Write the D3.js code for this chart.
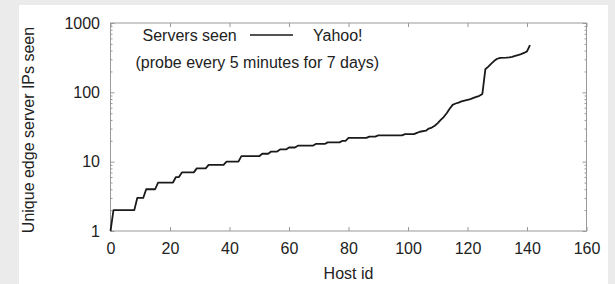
<!DOCTYPE html>
<html>
<head>
<meta charset="utf-8">
<script src="https://cdn.jsdelivr.net/npm/d3@7"></script>
<style>
  html, body { margin: 0; padding: 0; background: #ebebeb; }
  svg { display: block; }
</style>
</head>
<body>
<svg id="chart" width="615" height="284"></svg>
<script>
// host ids (sorted) and the count of unique edge server IPs each one saw
var hostIds = [0, 1, 8, 9, 11, 12, 15, 16, 21, 22, 23, 24, 28, 29, 32, 33, 38, 39, 43, 44,
               50, 51, 53, 54, 56, 57, 59, 60, 62, 63, 68, 69, 72, 73, 77, 78, 79, 80, 86, 87,
               89, 90, 98, 99, 102, 103, 104, 106, 107, 108, 109, 110, 111, 112, 113, 114, 115, 116,
               117, 118, 119, 120, 121, 122, 123, 124, 125, 126, 127, 128, 129, 130, 131, 133,
               134, 135, 136, 137, 138, 139, 140, 141];
var serversSeen = [1, 2, 2, 3, 3, 4, 4, 5, 5, 6, 6, 7, 7, 8, 8, 9, 9, 10, 10, 12,
                   12, 13, 13, 14, 14, 15, 15, 16, 16, 17, 17, 18, 18, 19, 19, 20, 20, 22, 22, 23,
                   23, 24, 24, 25, 25, 26, 27, 28, 30, 31, 33, 36, 40, 44, 50, 58, 66, 69,
                   71, 74, 76, 78, 80, 83, 86, 89, 95, 215, 235, 260, 285, 305, 315, 316,
                   320, 325, 335, 345, 355, 370, 390, 480];

var xTicks = [0, 20, 40, 60, 80, 100, 120, 140, 160];
var yTicks = [1, 10, 100, 1000];

var svg = d3.select("#chart");

// white panel
svg.append("rect")
   .attr("x", 19).attr("y", 5)
   .attr("width", 589).attr("height", 279)
   .attr("fill", "white");

var plotLeft = 110.5, plotRight = 586.5, plotTop = 23, plotBottom = 231;

var x = d3.scaleLinear().domain([0, 160]).range([plotLeft, plotRight]);
var y = d3.scaleLog().domain([1, 1000]).range([plotBottom, plotTop]);

var yMinor = [];
yTicks.slice(0, -1).forEach(function(d) {
    for (var k = 2; k <= 9; k++) yMinor.push(d * k);
});

var tickColor = "#999";
var font = "'Liberation Sans', Arial, sans-serif";

function style(g) {
    g.select(".domain").remove();
    g.selectAll("line").attr("stroke", tickColor);
    g.selectAll("text")
     .attr("font-family", font)
     .attr("font-size", "16px")
     .attr("fill", "#222");
}

// bottom axis with labels
svg.append("g")
   .attr("transform", "translate(0," + plotBottom + ")")
   .call(d3.axisBottom(x).tickValues(xTicks).tickSize(-4).tickPadding(12).tickFormat(d3.format("d")))
   .call(style);

// top axis, ticks only
svg.append("g")
   .attr("transform", "translate(0," + plotTop + ")")
   .call(d3.axisTop(x).tickValues(xTicks).tickSize(-4).tickFormat(""))
   .call(style);

// left axis with labels
svg.append("g")
   .attr("transform", "translate(" + plotLeft + ",0)")
   .call(d3.axisLeft(y).tickValues(yTicks).tickSize(-4).tickPadding(10.5).tickFormat(d3.format("d")))
   .call(style);

svg.append("g")
   .attr("transform", "translate(" + plotLeft + ",0)")
   .call(d3.axisLeft(y).tickValues(yMinor).tickSize(-2).tickFormat(""))
   .call(style);

// right axis, ticks only
svg.append("g")
   .attr("transform", "translate(" + plotRight + ",0)")
   .call(d3.axisRight(y).tickValues(yTicks).tickSize(-4).tickFormat(""))
   .call(style);

svg.append("g")
   .attr("transform", "translate(" + plotRight + ",0)")
   .call(d3.axisRight(y).tickValues(yMinor).tickSize(-2).tickFormat(""))
   .call(style);

// frame
svg.append("rect")
   .attr("x", plotLeft).attr("y", plotTop)
   .attr("width", plotRight - plotLeft).attr("height", plotBottom - plotTop)
   .attr("fill", "none")
   .attr("stroke", tickColor)
   .attr("stroke-width", 1);

// the curve
var points = hostIds.map(function(h, i) { return [h, serversSeen[i]]; });
var line = d3.line()
    .x(function(d) { return x(d[0]); })
    .y(function(d) { return y(d[1]); });

svg.append("path")
   .datum(points)
   .attr("d", line)
   .attr("fill", "none")
   .attr("stroke", "#1a1a1a")
   .attr("stroke-width", 1.8)
   .attr("stroke-linejoin", "round");

// axis titles
svg.append("text")
   .attr("x", (plotLeft + plotRight) / 2)
   .attr("y", 279)
   .attr("text-anchor", "middle")
   .attr("font-family", font)
   .attr("font-size", "16px")
   .attr("fill", "#222")
   .text("Host id");

svg.append("text")
   .attr("transform", "translate(34," + ((plotTop + plotBottom) / 2 + 3) + ") rotate(-90)")
   .attr("text-anchor", "middle")
   .attr("font-family", font)
   .attr("font-size", "16px")
   .attr("fill", "#222")
   .text("Unique edge server IPs seen");

// key
svg.append("text")
   .attr("x", 142.5).attr("y", 40.5)
   .attr("font-family", font)
   .attr("font-size", "16px")
   .attr("fill", "#222")
   .text("Servers seen");

svg.append("line")
   .attr("x1", 250).attr("x2", 293)
   .attr("y1", 35).attr("y2", 35)
   .attr("stroke", "#1a1a1a")
   .attr("stroke-width", 1.5);

svg.append("text")
   .attr("x", 313).attr("y", 40.5)
   .attr("font-family", font)
   .attr("font-size", "16px")
   .attr("fill", "#222")
   .text("Yahoo!");

svg.append("text")
   .attr("x", 135.5).attr("y", 67.5)
   .attr("font-family", font)
   .attr("font-size", "16px")
   .attr("fill", "#222")
   .text("(probe every 5 minutes for 7 days)");
</script>
</body>
</html>
